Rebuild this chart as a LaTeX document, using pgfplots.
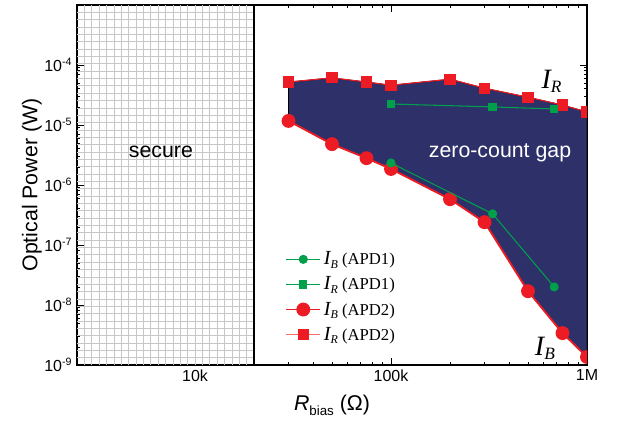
\documentclass[border=0pt]{standalone}
\usepackage{pgfplots}
\pgfplotsset{compat=1.18}
\usepackage{fontspec}
\setmainfont{Liberation Sans}
\newfontfamily\timesfont{Liberation Serif}
\definecolor{navyfill}{RGB}{46,48,106}
\definecolor{myred}{RGB}{237,28,36}
\definecolor{mylightred}{RGB}{242,110,110}
\definecolor{mygreen}{RGB}{0,160,75}
\newcommand{\lsub}[2]{{\fontsize{15}{15}\selectfont\itshape #1}\raisebox{-0.45ex}{\fontsize{9}{9}\selectfont\itshape #2}}
\begin{document}
\begin{tikzpicture}
\begin{axis}[
  name=ax,
  xmode=log, ymode=log,
  scale only axis, width=382.5pt, height=270pt,
  xmin=2500, xmax=1e6, ymin=1e-9, ymax=1e-3,
  xtick={1e4,1e5,1e6}, xticklabels={10k,100k,1M},
  ytick={1e-9,1e-8,1e-7,1e-6,1e-5,1e-4},
  yticklabels={10\textsuperscript{-9},10\textsuperscript{-8},10\textsuperscript{-7},10\textsuperscript{-6},10\textsuperscript{-5},10\textsuperscript{-4}},
  tick align=inside, major tick length=5pt, minor tick length=2.5pt,
  axis line style={line width=1pt},
  every tick/.style={black, line width=0.6pt},
  tick label style={font=\fontsize{12}{14}\selectfont},
  xlabel={\textit{R}\raisebox{-0.5ex}{\fontsize{10}{10}\selectfont bias} (Ω)},
  ylabel={Optical Power (W)},
  label style={font=\fontsize{16}{19}\selectfont},
  ylabel shift=-5pt, xlabel shift=3pt,
  clip marker paths=true,
  legend style={draw=none, fill=none, at={(0.40,0.33)}, anchor=north west,
     font=\timesfont\fontsize{12.5}{15}\selectfont, row sep=3.5pt},
  legend cell align=left,
  legend image code/.code={\draw[mark repeat=2,mark phase=2] plot coordinates {(0cm,0cm) (0.45cm,0cm) (0.9cm,0cm)};},
]
% secure grid
\pgfplotsinvokeforeach{1,...,23}{\draw[black!22, line width=0.5pt] (rel axis cs:{#1*0.347/24},0) -- (rel axis cs:{#1*0.347/24},1);}
\pgfplotsinvokeforeach{1,...,48}{\draw[black!22, line width=0.5pt] (rel axis cs:0,{#1/49}) -- (rel axis cs:0.347,{#1/49});}
\draw[black, line width=1.2pt] (axis cs:20000,1e-9) -- (axis cs:20000,1e-3);

% legend entries
\addlegendimage{mygreen, line width=0.8pt, mark=*, mark size=3pt}
\addlegendentry{\lsub{I}{B} (APD1)}
\addlegendimage{mygreen, line width=0.8pt, mark=square*, mark size=2.7pt}
\addlegendentry{\lsub{I}{R} (APD1)}
\addlegendimage{myred, line width=1.4pt, mark=*, mark size=4.5pt}
\addlegendentry{\lsub{I}{B} (APD2)}
\addlegendimage{mylightred, line width=0.8pt, mark=square*, mark size=3.8pt, mark options={myred}}
\addlegendentry{\lsub{I}{R} (APD2)}

% zero-count gap region
\addplot[fill=navyfill, draw=black, line width=0.6pt, forget plot] coordinates {
 (30000,5.2e-5) (50000,6.1e-5) (75000,5.2e-5) (100000,4.6e-5) (200000,5.8e-5)
 (300000,4.1e-5) (500000,2.9e-5) (750000,2.15e-5) (1000000,1.65e-5)
 (1000000,1.36e-9) (750000,3.4e-9) (500000,1.7e-8) (300000,2.4e-7)
 (200000,5.8e-7) (100000,1.85e-6) (75000,2.8e-6) (50000,4.8e-6) (30000,1.17e-5)
} -- cycle;

% APD2
\addplot[myred, line width=1.4pt, mark=*, mark size=4.5pt, forget plot] coordinates {
 (30000,1.17e-5) (50000,4.8e-6) (75000,2.8e-6) (100000,1.85e-6) (200000,5.8e-7)
 (300000,2.4e-7) (500000,1.7e-8) (750000,3.4e-9) (1000000,1.36e-9)};
\addplot[myred, line width=0.8pt, mark=square*, mark size=3.8pt, forget plot] coordinates {
 (30000,5.2e-5) (50000,6.1e-5) (75000,5.2e-5) (100000,4.6e-5) (200000,5.8e-5)
 (300000,4.1e-5) (500000,2.9e-5) (750000,2.15e-5) (1000000,1.65e-5)};

% APD1
\addplot[mygreen, line width=0.8pt, mark=*, mark size=3pt, forget plot] coordinates {
 (100000,2.33e-6) (330000,3.3e-7) (680000,2.0e-8)};
\addplot[mygreen, line width=0.8pt, mark=square*, mark size=2.7pt, forget plot] coordinates {
 (100000,2.24e-5) (330000,2.0e-5) (680000,1.85e-5)};

% annotations
\node[font=\fontsize{16}{18}\selectfont] at (axis cs:6700,3.55e-6) {secure};
\node[white, font=\fontsize{16}{18}\selectfont] at (axis cs:360000,3.4e-6) {zero-count gap};
\node[font=\timesfont\itshape] at (axis cs:660000,5.4e-5) {{\fontsize{21}{21}\selectfont I}\raisebox{-0.7ex}{\fontsize{13}{13}\selectfont R}};
\node[font=\timesfont\itshape] at (axis cs:610000,1.9e-9) {{\fontsize{21}{21}\selectfont I}\raisebox{-0.7ex}{\fontsize{13}{13}\selectfont B}};
\end{axis}
\path (ax.north east) ++(27pt,3.75pt);
\path (ax.south west) ++(-57.75pt,-50pt);
\end{tikzpicture}
\end{document}
